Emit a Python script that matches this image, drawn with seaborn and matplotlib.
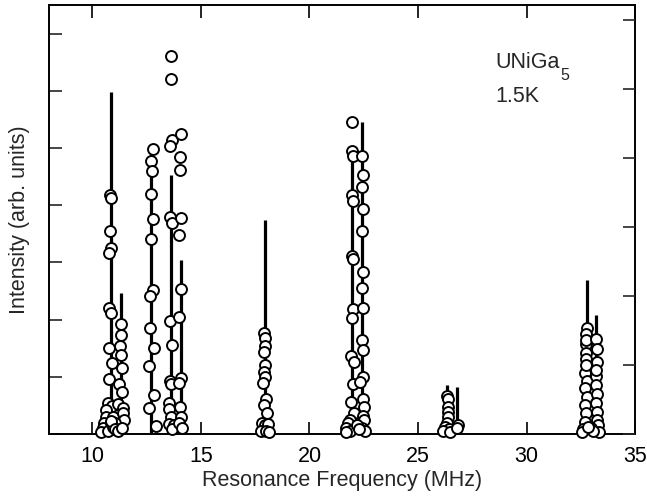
import matplotlib
matplotlib.use("Agg")
import matplotlib.pyplot as plt
import seaborn as sns
import pandas as pd
import numpy as np

# ---- data ----
stick_freq = [10.84, 11.31, 12.72, 13.60, 14.07, 17.93, 21.97, 22.41, 26.35, 26.81, 32.78, 33.22]
stick_height = [5.98, 2.46, 4.98, 4.53, 3.04, 3.74, 4.95, 5.46, 0.85, 0.83, 2.69, 2.08]

circ_freq = [
    # group near 10.8 / 11.3
    10.81, 10.85, 10.81, 10.88, 10.78, 10.78, 10.88, 10.75, 10.90, 10.75, 10.70, 10.90,
    10.65, 10.62, 10.53, 10.47, 10.38, 10.95, 10.85, 11.00, 10.92, 10.70,
    11.33, 11.31, 11.27, 11.34, 11.36, 11.22, 11.37, 11.19, 11.40, 11.42, 11.47, 11.06,
    10.97, 10.88, 11.03, 11.20, 11.38,
    # group near 12.7 / 13.6 / 14.1
    12.77, 12.71, 12.75, 12.69, 12.78, 12.68, 12.81, 12.65, 12.65, 12.83, 12.63, 12.84,
    12.60, 12.92,
    13.60, 13.63, 13.65, 13.57, 13.59, 13.66, 13.59, 13.65, 13.56, 13.60, 13.54, 13.54,
    13.63, 13.52, 13.75, 13.65,
    14.07, 14.04, 14.03, 14.06, 14.01, 14.10, 14.01, 14.09, 13.98, 14.03, 14.10, 14.00, 14.13,
    # group near 17.9
    17.92, 17.95, 17.94, 17.90, 17.94, 17.89, 17.97, 17.86, 18.00, 17.89, 18.04, 17.83,
    17.94, 18.09, 17.78, 17.98, 18.14,
    # group near 22.0 / 22.4
    21.98, 21.95, 21.99, 21.94, 21.99, 21.94, 22.00, 22.00, 21.94, 21.92, 22.03, 22.02,
    21.91, 22.05, 21.89, 21.77, 21.69, 21.85, 21.69,
    22.44, 22.46, 22.43, 22.46, 22.43, 22.46, 22.41, 22.46, 22.40, 22.47, 22.47, 22.33,
    22.47, 22.52, 22.46, 22.53, 22.43, 22.58, 22.20, 22.30,
    # group near 26.4 / 26.8
    26.35, 26.38, 26.38, 26.37, 26.40, 26.32, 26.26, 26.44, 26.17, 26.47, 26.84, 26.78,
    # group near 32.8 / 33.2
    32.78, 32.73, 32.76, 32.73, 32.76, 32.71, 32.78, 32.69, 32.78, 32.69, 32.73, 32.68,
    32.61, 32.55, 32.75, 32.72,
    33.22, 33.24, 33.25, 33.22, 33.19, 33.24, 33.19, 33.27, 33.25, 33.30, 33.34, 32.95,
    33.05, 32.85, 33.20,
]
circ_int = [
    4.17, 4.12, 3.54, 3.25, 3.16, 2.20, 2.12, 1.50, 1.24, 0.96, 0.55, 0.49,
    0.42, 0.30, 0.19, 0.10, 0.04, 0.30, 0.20, 0.12, 0.08, 0.05,
    1.92, 1.73, 1.53, 1.38, 1.15, 0.87, 0.73, 0.52, 0.45, 0.36, 0.24, 0.20,
    0.12, 0.22, 0.08, 0.05, 0.10,
    4.98, 4.78, 4.59, 4.19, 3.76, 3.41, 2.52, 2.42, 1.85, 1.50, 1.19, 0.69,
    0.46, 0.14,
    6.61, 6.21, 5.14, 5.04, 3.80, 3.68, 1.98, 1.56, 0.92, 0.88, 0.55, 0.44,
    0.30, 0.18, 0.15, 0.08,
    5.24, 4.84, 4.62, 3.78, 3.47, 2.53, 2.05, 0.97, 0.89, 0.48, 0.29, 0.20, 0.10,
    1.76, 1.67, 1.53, 1.44, 1.21, 1.09, 1.00, 0.89, 0.62, 0.51, 0.36, 0.20,
    0.15, 0.18, 0.06, 0.05, 0.03,
    5.46, 4.95, 4.86, 4.18, 4.08, 3.11, 3.06, 2.19, 2.02, 1.36, 1.25, 0.87,
    0.56, 0.37, 0.25, 0.20, 0.10, 0.05, 0.04,
    4.86, 4.53, 4.32, 3.93, 3.55, 2.84, 2.56, 2.21, 1.64, 1.46, 1.00, 0.91,
    0.62, 0.48, 0.32, 0.25, 0.10, 0.05, 0.15, 0.08,
    0.67, 0.61, 0.48, 0.38, 0.29, 0.20, 0.12, 0.08, 0.06, 0.03, 0.16, 0.10,
    1.86, 1.75, 1.57, 1.41, 1.31, 1.06, 0.93, 0.80, 0.65, 0.51, 0.36, 0.21,
    0.08, 0.04, 1.65, 1.20,
    1.66, 1.48, 1.26, 1.01, 0.86, 0.70, 0.54, 0.39, 0.24, 0.16, 0.03, 0.10,
    0.05, 0.12, 1.12,
]

x_ticks = [10, 15, 20, 25, 30, 35]
left_ticks = [0, 1, 2, 3, 4, 5, 6, 7]
right_ticks = [0, 1, 2, 3, 4, 5, 6]

# ---- style ----
sns.set_style("ticks")
plt.rcParams["font.family"] = ["Liberation Sans", "DejaVu Sans"]

FS = 15.5
fig = plt.figure(figsize=(6.47, 4.97), dpi=100)
ax = fig.add_axes([0.0757, 0.1268, 0.9058, 0.8632])

ax.vlines(stick_freq, 0, stick_height, colors="black", linewidth=2.3, zorder=2)

df = pd.DataFrame({"freq": circ_freq, "intensity": circ_int})
sns.scatterplot(data=df, x="freq", y="intensity", ax=ax, s=62, marker="o",
                facecolor="white", edgecolor="black", linewidth=1.4, zorder=3,
                legend=False, clip_on=False)

ax.set_xlim(8, 35)
ax.set_ylim(0, 7.5)
ax.set_xticks(x_ticks)
ax.set_yticks(left_ticks)
ax.set_yticklabels([])
ax.tick_params(axis="x", direction="in", length=9, width=1.2, top=True,
               labelsize=FS, pad=9, colors="black")
ax.tick_params(axis="y", direction="in", length=9, width=1.2, left=True, right=False)
ax.set_xlabel("Resonance Frequency (MHz)", fontsize=FS, labelpad=2)
ax.set_ylabel("Intensity (arb. units)", fontsize=FS, labelpad=10)
for sp in ax.spines.values():
    sp.set_linewidth(1.4)
    sp.set_color("black")
    sp.set_visible(True)

ax2 = ax.twinx()
ax2.set_ylim(0, 6.22)
ax2.set_yticks(right_ticks)
ax2.set_yticklabels([])
ax2.tick_params(axis="y", direction="in", length=9, width=1.2, right=True)
for sp in ax2.spines.values():
    sp.set_visible(False)

t1 = ax.text(28.56, 6.40, "UNiGa", fontsize=FS, ha="left", va="baseline")
ax.annotate("5", xy=(1, 0), xycoords=t1, xytext=(0.5, -5),
            textcoords="offset points", fontsize=11.5, ha="left", va="baseline")
ax.text(28.56, 5.80, "1.5K", fontsize=FS, ha="left", va="baseline")

fig.savefig("out.png", dpi=100)
